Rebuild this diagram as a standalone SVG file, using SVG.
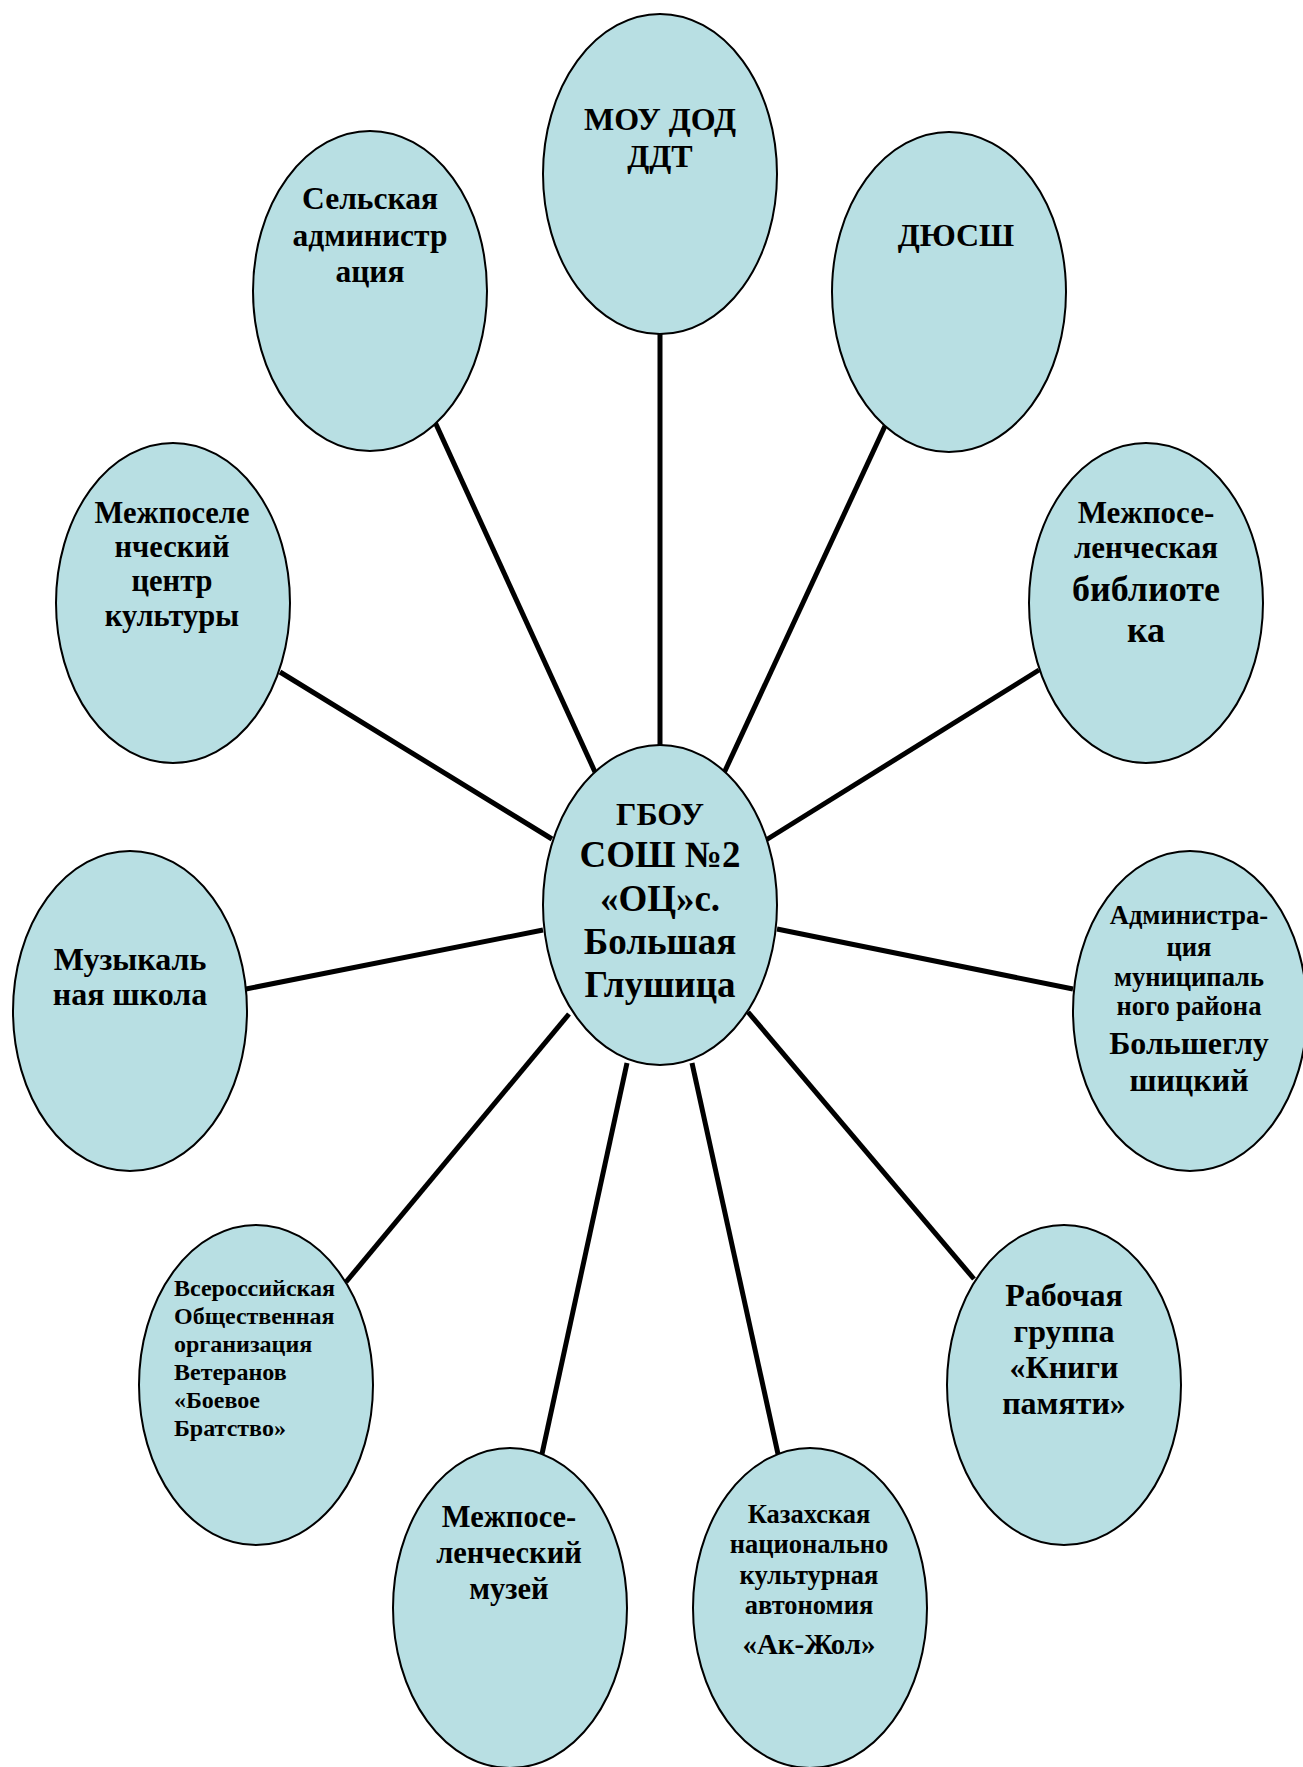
<svg xmlns="http://www.w3.org/2000/svg" width="1303" height="1767" viewBox="0 0 1303 1767">
<style>
.n{fill:#B8DFE3;stroke:#000;stroke-width:2}
.c line{stroke:#000;stroke-width:5}
text{font-family:"Liberation Serif","Times New Roman",serif;font-weight:bold;fill:#000;text-anchor:middle}
.l{text-anchor:start}
</style>
<rect width="1303" height="1767" fill="#fff"/>
<g id="connectors" class="c">
<line x1="660" y1="330" x2="660" y2="750"/>
<line x1="435" y1="422" x2="595" y2="772"/>
<line x1="885" y1="426" x2="724" y2="773"/>
<line x1="280" y1="672" x2="552" y2="839"/>
<line x1="1039" y1="670" x2="766" y2="840"/>
<line x1="246" y1="989" x2="543" y2="930"/>
<line x1="1073" y1="989" x2="777" y2="929"/>
<line x1="346" y1="1282" x2="569" y2="1014"/>
<line x1="974" y1="1279" x2="748" y2="1012"/>
<line x1="542" y1="1454" x2="627" y2="1063"/>
<line x1="778" y1="1454" x2="692" y2="1063"/>
</g>
<g id="n-mou"><ellipse class="n" cx="660" cy="174" rx="117" ry="160"/>
<text x="660" y="130" font-size="32">МОУ ДОД</text><text x="660" y="167" font-size="32">ДДТ</text></g>
<g id="n-selskaya"><ellipse class="n" cx="370" cy="291" rx="117" ry="160"/>
<text x="370" y="209" font-size="31.5">Сельская</text><text x="370" y="246" font-size="31.5">администр</text><text x="370" y="282" font-size="31.5">ация</text></g>
<g id="n-dyussh"><ellipse class="n" cx="949" cy="292" rx="117" ry="160"/>
<text x="956" y="246" font-size="32">ДЮСШ</text></g>
<g id="n-mck"><ellipse class="n" cx="173" cy="603" rx="117" ry="160"/>
<text x="172" y="523" font-size="30.5">Межпоселе</text><text x="172" y="557" font-size="30.5">нческий</text><text x="172" y="591" font-size="30.5">центр</text><text x="172" y="626" font-size="30.5">культуры</text></g>
<g id="n-library"><ellipse class="n" cx="1146" cy="603" rx="117" ry="160"/>
<text x="1146" y="523" font-size="31">Межпосе-</text><text x="1146" y="558" font-size="31">ленческая</text><text x="1146" y="601" font-size="36">библиоте</text><text x="1146" y="642" font-size="36">ка</text></g>
<g id="n-center"><ellipse class="n" cx="660" cy="905" rx="117" ry="160"/>
<text x="660" y="825" font-size="32">ГБОУ</text><text x="660" y="867" font-size="37">СОШ №2</text><text x="660" y="911" font-size="37">«ОЦ»с.</text><text x="660" y="954" font-size="37">Большая</text><text x="660" y="997" font-size="37">Глушица</text></g>
<g id="n-music"><ellipse class="n" cx="130" cy="1011" rx="117" ry="160"/>
<text x="130" y="970" font-size="32">Музыкаль</text><text x="130" y="1005" font-size="32">ная школа</text></g>
<g id="n-admin"><ellipse class="n" cx="1190" cy="1011" rx="117" ry="160"/>
<text x="1189" y="924" font-size="26.5">Администра-</text><text x="1189" y="956" font-size="26.5">ция</text><text x="1189" y="986" font-size="26.5">муниципаль</text><text x="1189" y="1015" font-size="26.5">ного района</text><text x="1189" y="1054" font-size="32">Большеглу</text><text x="1189" y="1091" font-size="32">шицкий</text></g>
<g id="n-veterans"><ellipse class="n" cx="256" cy="1385" rx="117" ry="160"/>
<text class="l" x="174" y="1296" font-size="24">Всероссийская</text><text class="l" x="174" y="1324" font-size="24">Общественная</text><text class="l" x="174" y="1352" font-size="24">организация</text><text class="l" x="174" y="1380" font-size="24">Ветеранов</text><text class="l" x="174" y="1408" font-size="24">«Боевое</text><text class="l" x="174" y="1436" font-size="24">Братство»</text></g>
<g id="n-kniga"><ellipse class="n" cx="1064" cy="1385" rx="117" ry="160"/>
<text x="1064" y="1306" font-size="32">Рабочая</text><text x="1064" y="1342" font-size="32">группа</text><text x="1064" y="1378" font-size="32">«Книги</text><text x="1064" y="1414" font-size="32">памяти»</text></g>
<g id="n-museum"><ellipse class="n" cx="510" cy="1608" rx="117" ry="160"/>
<text x="509" y="1527" font-size="30.5">Межпосе-</text><text x="509" y="1563" font-size="30.5">ленческий</text><text x="509" y="1599" font-size="30.5">музей</text></g>
<g id="n-akzhol"><ellipse class="n" cx="810" cy="1608" rx="117" ry="160"/>
<text x="809" y="1523" font-size="26.5">Казахская</text><text x="809" y="1553" font-size="26.5">национально</text><text x="809" y="1584" font-size="26.5">культурная</text><text x="809" y="1614" font-size="26.5">автономия</text><text x="809" y="1654" font-size="29">«Ак-Жол»</text></g>
</svg>
